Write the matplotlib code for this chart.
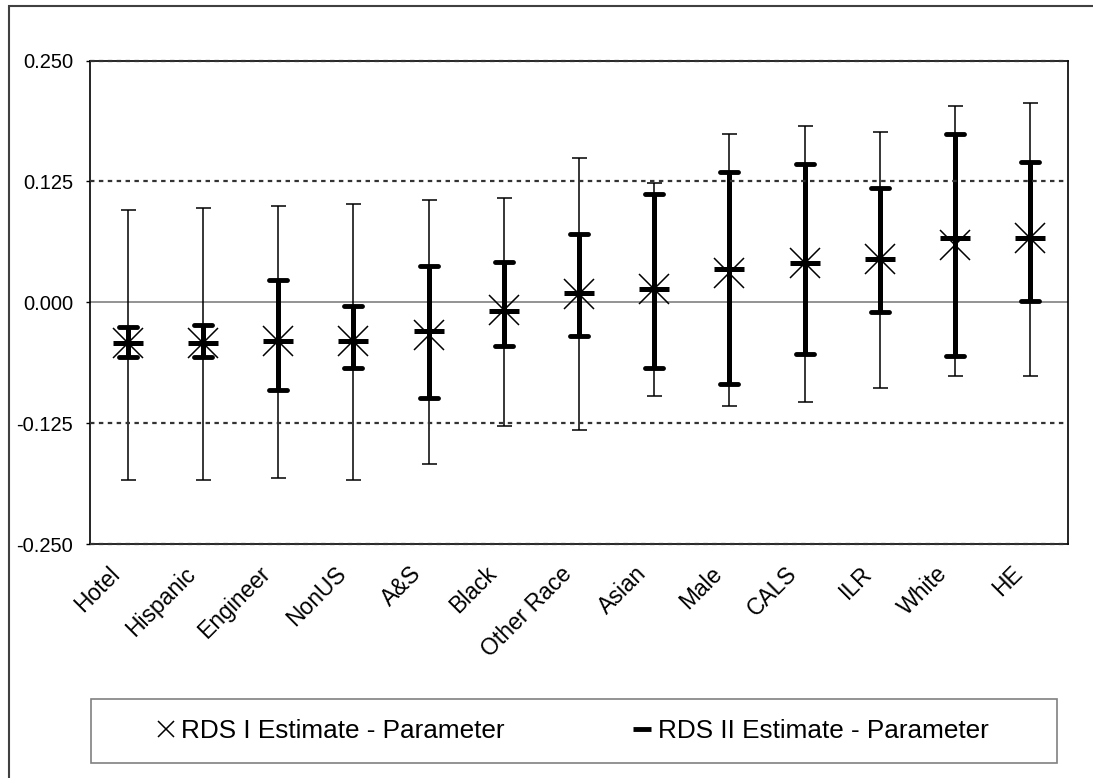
import matplotlib
matplotlib.use('Agg')
import matplotlib.pyplot as plt
import numpy as np
from matplotlib.lines import Line2D
from matplotlib.markers import MarkerStyle
from matplotlib.patches import Rectangle
from matplotlib.ticker import FormatStrFormatter
from matplotlib.transforms import ScaledTranslation

plt.rcParams['font.family'] = ['Liberation Sans', 'DejaVu Sans']

categories = ['Hotel', 'Hispanic', 'Engineer', 'NonUS', 'A&S', 'Black', 'Other Race',
              'Asian', 'Male', 'CALS', 'ILR', 'White', 'HE']

# RDS I: estimate - parameter with its interval (thin bars, x markers)
rds1_est = np.array([-0.042, -0.042, -0.040, -0.040, -0.034, -0.008, 0.009,
                     0.014, 0.030, 0.041, 0.045, 0.059, 0.066])
rds1_lo = np.array([-0.184, -0.184, -0.182, -0.184, -0.167, -0.128, -0.132,
                    -0.097, -0.107, -0.103, -0.089, -0.076, -0.076])
rds1_hi = np.array([0.095, 0.097, 0.100, 0.102, 0.106, 0.108, 0.149,
                    0.123, 0.174, 0.182, 0.176, 0.203, 0.206])

# RDS II: estimate - parameter with its interval (thick bars, dash markers)
rds2_est = np.array([-0.042, -0.042, -0.040, -0.040, -0.030, -0.009, 0.010,
                     0.014, 0.034, 0.041, 0.045, 0.066, 0.066])
rds2_lo = np.array([-0.057, -0.057, -0.091, -0.068, -0.099, -0.045, -0.035,
                    -0.068, -0.085, -0.053, -0.010, -0.056, 0.001])
rds2_hi = np.array([-0.026, -0.024, 0.023, -0.004, 0.037, 0.042, 0.071,
                    0.112, 0.135, 0.143, 0.118, 0.174, 0.145])

yticks = [-0.25, -0.125, 0.0, 0.125, 0.25]

W, H = 1093, 778
fig = plt.figure(figsize=(W / 100, H / 100), dpi=100)
ax = fig.add_axes([90 / W, 1 - 544 / H, (1068 - 90) / W, (544 - 60.5) / H])

x = np.arange(len(categories))

# dotted reference lines and the zero line
for y in yticks:
    if y == 0:
        ax.axhline(y, color='#808080', lw=1.2, zorder=1)
    else:
        ax.axhline(y, color='#333333', lw=1.6, dashes=(2, 2), zorder=6, clip_on=False)

ax.errorbar(x, rds1_est, yerr=[rds1_est - rds1_lo, rds1_hi - rds1_est], fmt='none',
            ecolor='black', elinewidth=1.1, capsize=5.4, capthick=1.1, zorder=3)
eb2 = ax.errorbar(x, rds2_est, yerr=[rds2_est - rds2_lo, rds2_hi - rds2_est], fmt='none',
                  ecolor='black', elinewidth=3.6, capsize=6.8, capthick=3.5, zorder=4)
for cap in eb2[1]:
    cap.set_marker(MarkerStyle('_', capstyle='round'))

ax.plot(x, rds1_est, ls='none', marker='x', ms=21, mew=1.1, color='black', zorder=5)
ax.plot(x, rds2_est, ls='none', marker='_', ms=21, mew=3.6, color='black', zorder=5)

ax.set_xlim(-0.5, len(categories) - 0.5)
ax.set_ylim(-0.25, 0.25)
ax.set_yticks(yticks)
ax.yaxis.set_major_formatter(FormatStrFormatter('%.3f'))
ax.tick_params(axis='y', direction='out', length=3, width=1, pad=9, labelsize=14.5)
ax.set_xticks(x)
ax.set_xticklabels(categories, rotation=45, ha='right', va='center',
                   rotation_mode='anchor', fontsize=16.5)
ax.tick_params(axis='x', length=0, pad=19)
for lab in ax.get_xticklabels():
    lab.set_transform(lab.get_transform() + ScaledTranslation(-11 / 100, 0, fig.dpi_scale_trans))
for s in ax.spines.values():
    s.set_color('black')
    s.set_linewidth(1.2)

# chart area border
fig.patches.append(Rectangle((8.5 / W, -0.1), 1.2, 1.1 - 5.5 / H, transform=fig.transFigure,
                             fill=False, edgecolor='#404040', lw=1.5))

# legend box
fig.patches.append(Rectangle((91 / W, 1 - 763 / H), (1057 - 91) / W, (763 - 699) / H,
                             transform=fig.transFigure, fill=False, edgecolor='#808080', lw=1.2))
handles = [Line2D([], [], ls='none', marker='x', ms=12, mew=1.1, color='black'),
           Line2D([], [], ls='none', marker='_', ms=13, mew=3.5, color='black')]
fig.legend(handles, ['RDS I Estimate - Parameter', 'RDS II Estimate - Parameter'],
           loc='center', bbox_to_anchor=(573 / W, 1 - 731 / H), ncol=2, frameon=False,
           fontsize=18.8, handlelength=0.6, handletextpad=0.3, columnspacing=4.95, borderpad=0)

fig.savefig('out.png', dpi=100)
